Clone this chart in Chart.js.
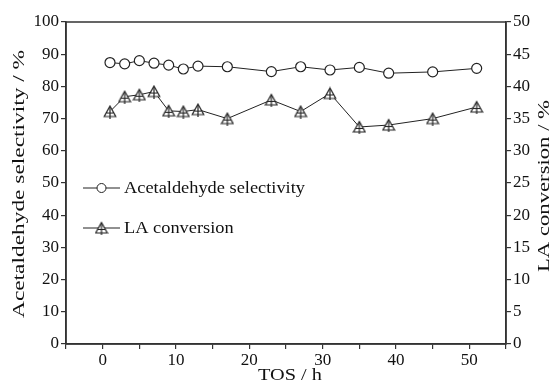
<!DOCTYPE html>
<html>
<head>
<meta charset="utf-8">
<script src="https://cdn.jsdelivr.net/npm/chart.js@4.4.1/dist/chart.umd.min.js"></script>
<style>
  html, body { margin: 0; padding: 0; background: #fff; }
  #wrap { width: 555px; height: 385px; }
</style>
</head>
<body>
<div id="wrap"><canvas id="chart" width="555" height="385"></canvas></div>
<script>
// time on stream, h
var tos = [1, 3, 5, 7, 9, 11, 13, 17, 23, 27, 31, 35, 39, 45, 51];
// left axis, %
var selectivity = [87.4, 87.0, 88.0, 87.2, 86.6, 85.4, 86.3, 86.1, 84.6, 86.1, 85.1, 85.9, 84.1, 84.5, 85.6];
// right axis, %
var conversion = [36.1, 38.4, 38.7, 39.2, 36.2, 36.1, 36.4, 35.0, 37.9, 36.1, 38.9, 33.7, 34.0, 35.0, 36.8];

var xTitle = 'TOS / h';
var yTitle = 'Acetaldehyde selectivity / %';
var y1Title = 'LA conversion / %';

var font = "'Liberation Serif', 'Times New Roman', serif";
var ink = '#222';

function pts(ys) {
    return tos.map(function(x, i){ return {x: x, y: ys[i]}; });
}

// triangle marker with a cross inside
function triMarker() {
    var c = document.createElement('canvas');
    c.width = 14; c.height = 14;
    var g = c.getContext('2d');
    g.strokeStyle = ink; g.lineWidth = 1.2;
    g.fillStyle = '#fff';
    g.beginPath();
    g.moveTo(7, 1.5); g.lineTo(12.8, 12); g.lineTo(1.2, 12); g.closePath();
    g.fill(); g.stroke();
    g.beginPath();
    g.moveTo(7, 2); g.lineTo(7, 14);
    g.moveTo(3, 8.5); g.lineTo(11, 8.5);
    g.stroke();
    return c;
}
var tri = triMarker();

// text stretched along its run to a given length
function label(ctx, text, x, y, rot, size, len, align) {
    ctx.save();
    ctx.font = size + 'px ' + font;
    var w = ctx.measureText(text).width;
    ctx.translate(x, y);
    ctx.rotate(rot);
    ctx.scale(len / w, 1);
    ctx.fillStyle = '#111';
    ctx.textAlign = align || 'center';
    ctx.textBaseline = 'middle';
    ctx.fillText(text, 0, 0);
    ctx.restore();
}

var frame = {
    id: 'frame',
    afterDraw: function(chart) {
        var a = chart.chartArea, ctx = chart.ctx;
        ctx.save();
        ctx.strokeStyle = '#333'; ctx.lineWidth = 1.5;
        ctx.strokeRect(a.left, a.top, a.right - a.left, a.bottom - a.top);

        label(ctx, yTitle, 20, 184, -Math.PI / 2, 17, 268);
        label(ctx, y1Title, 545, 186, -Math.PI / 2, 17, 172);
        label(ctx, xTitle, 290, 376, 0, 17, 64);

        // legend inside plot
        var rows = [188, 228];
        ctx.font = '17px ' + font;
        var k = 181 / ctx.measureText(chart.data.datasets[0].label).width;
        chart.data.datasets.forEach(function(ds, i) {
            var y = rows[i];
            ctx.strokeStyle = ink; ctx.lineWidth = 1;
            ctx.beginPath(); ctx.moveTo(83, y); ctx.lineTo(120, y); ctx.stroke();
            if (i === 0) {
                ctx.fillStyle = '#fff';
                ctx.beginPath(); ctx.arc(101.5, y, 4.5, 0, Math.PI * 2); ctx.fill(); ctx.stroke();
            } else {
                ctx.drawImage(tri, 101.5 - 7, y - 7);
            }
            ctx.font = '17px ' + font;
            var w = ctx.measureText(ds.label).width;
            label(ctx, ds.label, 124, y + 1, 0, 17, w * k, 'left');
        });
        ctx.restore();
    }
};

var tickGrid = {
    drawOnChartArea: false,
    drawTicks: true,
    tickLength: 5,
    color: '#333',
    lineWidth: 1.2
};

new Chart(document.getElementById('chart'), {
    type: 'line',
    data: {
        datasets: [{
            label: 'Acetaldehyde selectivity',
            data: pts(selectivity),
            yAxisID: 'y',
            borderColor: ink,
            borderWidth: 1,
            pointStyle: 'circle',
            pointRadius: 5,
            pointBackgroundColor: '#fff',
            pointBorderColor: ink,
            pointBorderWidth: 1.2,
            tension: 0
        }, {
            label: 'LA conversion',
            data: pts(conversion),
            yAxisID: 'y1',
            borderColor: ink,
            borderWidth: 1,
            pointStyle: tri,
            pointRadius: 7,
            tension: 0
        }]
    },
    options: {
        responsive: false,
        animation: false,
        layout: { padding: { top: 22, left: 0, right: 0, bottom: 0 } },
        plugins: { legend: { display: false }, tooltip: { enabled: false } },
        scales: {
            x: {
                type: 'linear',
                min: -5, max: 55,
                border: { display: true, color: '#333', width: 1.5 },
                grid: tickGrid,
                ticks: {
                    stepSize: 5, color: '#111', padding: 1, maxRotation: 0,
                    font: { family: font, size: 17 },
                    callback: function(v){ return v % 10 === 0 ? v : ''; }
                },
                afterFit: function(s){ s.height = 41; }
            },
            y: {
                position: 'left',
                min: 0, max: 100,
                border: { display: true, color: '#333', width: 1.5 },
                grid: tickGrid,
                ticks: {
                    stepSize: 5, color: '#111', padding: 2,
                    font: { family: font, size: 17 },
                    callback: function(v){ return v % 10 === 0 ? v : ''; }
                },
                afterFit: function(s){ s.width = 66; }
            },
            y1: {
                position: 'right',
                min: 0, max: 50,
                border: { display: true, color: '#333', width: 1.5 },
                grid: tickGrid,
                ticks: {
                    stepSize: 2.5, color: '#111', padding: 2,
                    font: { family: font, size: 17 },
                    callback: function(v){ return v % 5 === 0 ? v : ''; }
                },
                afterFit: function(s){ s.width = 49; }
            }
        }
    },
    plugins: [frame]
});
</script>
</body>
</html>
